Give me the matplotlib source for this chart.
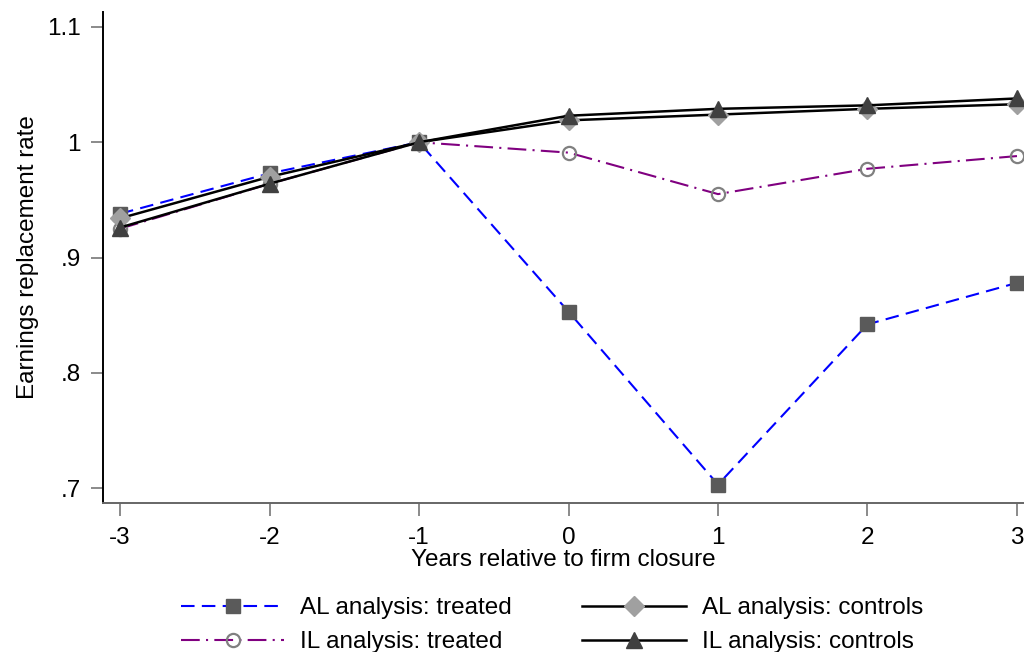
import matplotlib.pyplot as plt

plt.rcParams['font.family'] = ['Liberation Sans', 'DejaVu Sans']

years = [-3, -2, -1, 0, 1, 2, 3]
al_treated = [0.938, 0.973, 1.000, 0.853, 0.703, 0.842, 0.878]
al_controls = [0.934, 0.970, 1.000, 1.019, 1.024, 1.029, 1.033]
il_treated = [0.925, 0.964, 1.000, 0.991, 0.955, 0.977, 0.988]
il_controls = [0.926, 0.964, 1.000, 1.023, 1.029, 1.032, 1.038]

yticks = [0.7, 0.8, 0.9, 1.0, 1.1]
ytick_labels = ['.7', '.8', '.9', '1', '1.1']

fs = 17.5

fig = plt.figure(figsize=(10.24, 6.52), dpi=100)
ax = fig.add_axes([0.1006, 0.2285, 0.8994, 0.7531])

ax.plot(years, al_treated, color='#0000ff', linestyle=(0, (6.5, 3.5)), lw=1.5,
        marker='s', ms=10, mfc='#5a5a5a', mec='#5a5a5a',
        label='AL analysis: treated', zorder=3)
ax.plot(years, il_treated, color='#800080', linestyle=(0, (9, 3, 1, 3)), lw=1.5,
        marker='o', ms=9.5, mfc='none', mec='#808080', mew=1.6,
        label='IL analysis: treated', zorder=3)
ax.plot(years, al_controls, color='black', lw=1.8,
        marker='D', ms=10, mfc='#a0a0a0', mec='#a0a0a0',
        label='AL analysis: controls', zorder=4)
ax.plot(years, il_controls, color='black', lw=1.8,
        marker='^', ms=12, mfc='#404040', mec='#404040',
        label='IL analysis: controls', zorder=5)

ax.set_xlim(-3.114, 3.047)
ax.set_ylim(0.687, 1.113)
ax.set_xticks(years)
ax.set_xticklabels([str(y) for y in years])
ax.set_yticks(yticks)
ax.set_yticklabels(ytick_labels)

for s in ['top', 'right']:
    ax.spines[s].set_visible(False)
ax.spines['left'].set_color('black')
ax.spines['bottom'].set_color('#666666')
for s in ['left', 'bottom']:
    ax.spines[s].set_linewidth(1.4)

ax.tick_params(axis='both', direction='out', length=9, width=1.2,
               color='#777777', labelsize=fs)
ax.tick_params(axis='x', pad=8)
ax.tick_params(axis='y', pad=7)
ax.set_xlabel('Years relative to firm closure', fontsize=fs, labelpad=0)
ax.set_ylabel('Earnings replacement rate', fontsize=fs, labelpad=6)

fig.legend(*ax.get_legend_handles_labels(), loc='center',
           bbox_to_anchor=(0.539, 0.041), ncol=2,
           frameon=False, fontsize=fs, handlelength=4.25,
           columnspacing=2.9, labelspacing=0.5, handletextpad=0.66)

fig.savefig('out.png', dpi=100)
